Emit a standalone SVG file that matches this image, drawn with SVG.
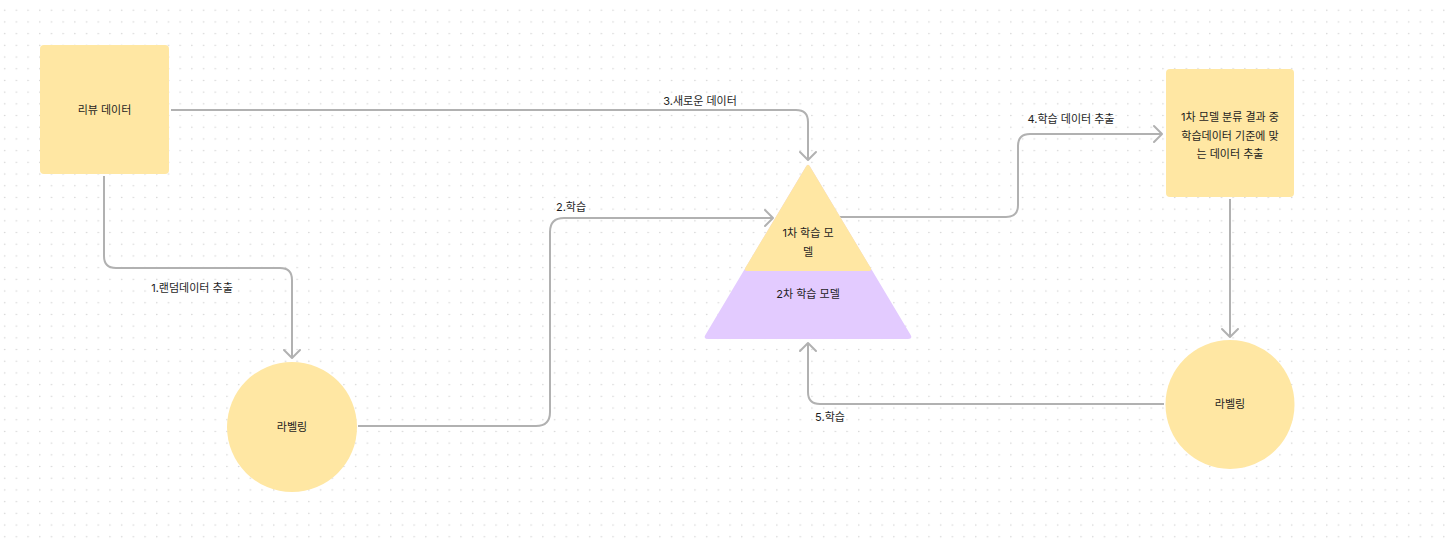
<svg xmlns="http://www.w3.org/2000/svg" width="1447" height="545" viewBox="0 0 1447 545">
<defs>
<pattern id="dots" patternUnits="userSpaceOnUse" x="0" y="0" width="11.7" height="11.7">
<circle cx="4.7" cy="10.3" r="0.75" fill="#cfcfcf"/>
</pattern>
<marker id="arr" viewBox="-10 -10 20 20" refX="0" refY="0" markerWidth="20" markerHeight="20" markerUnits="userSpaceOnUse" orient="auto">
<path d="M-8,-8 L0,0 L-8,8" fill="none" stroke="#b1b1b1" stroke-width="2" stroke-linecap="round" stroke-linejoin="round"/>
</marker>
<style>
.bg{fill:#ffffff}
.y{fill:#ffe7a3}
.p{fill:#e3cbff}
.t{font-family:Inter,"Noto Sans CJK KR","Noto Sans",sans-serif;font-size:11px;fill:#1e1e1e;text-anchor:middle}
.lbl{font-family:Inter,"Noto Sans CJK KR","Noto Sans",sans-serif;font-size:11px;fill:#1e1e1e;text-anchor:middle}
.c{fill:none;stroke:#b1b1b1;stroke-width:2;marker-end:url(#arr)}
</style>
</defs>
<rect class="bg" width="1447" height="545"/>
<rect width="1447" height="545" fill="url(#dots)"/>

<g id="connectors">
<path class="c" d="M171,110 H796 Q808,110 808,122 V160"/>
<path class="c" d="M104,176 V256 Q104,268 116,268 H280 Q292,268 292,280 V358"/>
<path class="c" d="M358,426 H536 Q550,426 550,412 V232 Q550,218 564,218 H773"/>
<path class="c" d="M840,217 H1006 Q1018,217 1018,205 V146 Q1018,134 1030,134 H1162"/>
<path class="c" d="M1230,199 V337"/>
<path class="c" d="M1164,404 H820 Q808,404 808,392 V343"/>
<text class="lbl" x="700" y="101" dy=".35em">3.새로운 데이터</text>
<text class="lbl" x="192" y="288" dy=".35em">1.랜덤데이터 추출</text>
<text class="lbl" x="571" y="207" dy=".35em">2.학습</text>
<text class="lbl" x="1071" y="119" dy=".35em">4.학습 데이터 추출</text>
<text class="lbl" x="830" y="417" dy=".35em">5.학습</text>
</g>

<g id="review-data">
<rect class="y" x="40" y="45" width="129" height="129" rx="4"/>
<text class="t" x="104.5" y="110" dy=".35em">리뷰 데이터</text>
</g>

<g id="labeling-left">
<circle class="y" cx="292" cy="427" r="65"/>
<text class="t" x="292" y="427" dy=".35em">라벨링</text>
</g>

<g id="model-pyramid">
<path class="p" d="M806,166.4 Q808,163 810,166.4 L910.5,334.7 Q913,339 908,339 L708,339 Q703,339 705.5,334.7 Z"/>
<path class="y" d="M806,166.4 Q808,163 810,166.4 L870.5,267.5 Q872.5,271 868.5,271 L747.5,271 Q743.5,271 745.5,267.5 Z"/>
<text class="t" x="808" y="233" dy=".35em">1차 학습 모</text>
<text class="t" x="808" y="252" dy=".35em">델</text>
<text class="t" x="808" y="294" dy=".35em">2차 학습 모델</text>
</g>

<g id="extract-node">
<rect class="y" x="1166" y="69" width="128" height="128" rx="4"/>
<text class="t" x="1230" y="117" dy=".35em">1차 모델 분류 결과 중</text>
<text class="t" x="1230" y="136" dy=".35em">학습데이터 기준에 맞</text>
<text class="t" x="1230" y="154" dy=".35em">는 데이터 추출</text>
</g>

<g id="labeling-right">
<circle class="y" cx="1230" cy="404.5" r="64.5"/>
<text class="t" x="1230" y="404.5" dy=".35em">라벨링</text>
</g>
</svg>
